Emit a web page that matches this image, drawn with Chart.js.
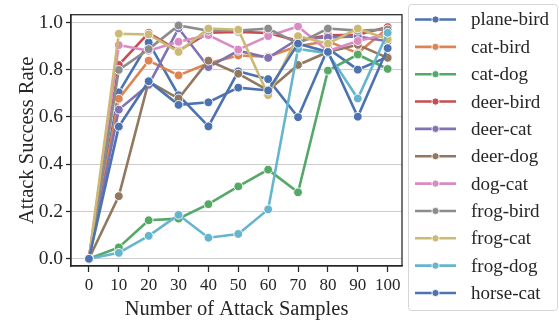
<!DOCTYPE html>
<html>
<head>
<meta charset="utf-8">
<script src="https://cdn.jsdelivr.net/npm/chart.js@4"></script>
<style>
  html, body { margin: 0; padding: 0; background: #ffffff; }
  #wrap { position: relative; width: 559px; height: 322px; }
</style>
</head>
<body>
<div id="wrap"><canvas id="c" width="559" height="322"></canvas></div>
<script>
const samples = [0, 10, 20, 30, 40, 50, 60, 70, 80, 90, 100];
const seriesNames = ["plane-bird", "cat-bird", "cat-dog", "deer-bird", "deer-cat", "deer-dog", "dog-cat", "frog-bird", "frog-cat", "frog-dog", "horse-cat"];
const planeBird = [0, 0.704, 0.915, 0.692, 0.560, 0.793, 0.760, 0.599, 0.890, 0.800, 0.854];
const catBird   = [0, 0.677, 0.838, 0.776, 0.827, 0.860, 0.855, 0.900, 0.920, 0.870, 0.975];
const catDog    = [0, 0.048, 0.163, 0.170, 0.231, 0.306, 0.377, 0.281, 0.796, 0.864, 0.803];
const deerBird  = [0, 0.820, 0.956, 0.880, 0.956, 0.960, 0.955, 0.922, 0.945, 0.948, 0.980];
const deerCat   = [0, 0.631, 0.736, 0.975, 0.811, 0.880, 0.850, 0.930, 0.936, 0.940, 0.920];
const deerDog   = [0, 0.265, 0.750, 0.678, 0.838, 0.783, 0.712, 0.820, 0.875, 0.905, 0.850];
const dogCat    = [0, 0.904, 0.880, 0.918, 0.946, 0.885, 0.942, 0.983, 0.879, 0.921, 0.950];
const frogBird  = [0, 0.799, 0.887, 0.987, 0.965, 0.965, 0.974, 0.910, 0.974, 0.965, 0.970];
const frogCat   = [0, 0.952, 0.949, 0.875, 0.974, 0.969, 0.692, 0.942, 0.910, 0.974, 0.929];
const frogDog   = [0, 0.025, 0.097, 0.186, 0.089, 0.105, 0.209, 0.888, 0.870, 0.678, 0.956];
const horseCat  = [0, 0.559, 0.751, 0.651, 0.662, 0.724, 0.712, 0.910, 0.875, 0.601, 0.891];
const yTicks = [0.0, 0.2, 0.4, 0.6, 0.8, 1.0];
const xTicks = [0, 10, 20, 30, 40, 50, 60, 70, 80, 90, 100];

const allSeries = [planeBird, catBird, catDog, deerBird, deerCat, deerDog, dogCat, frogBird, frogCat, frogDog, horseCat];
const palette = ["#4C72B0", "#DD8452", "#55A868", "#C44E52", "#8172B3", "#937860", "#DA8BC3", "#8C8C8C", "#CCB974", "#64B5CD", "#4C72B0"];

const SERIF = "'Liberation Serif', 'Times New Roman', serif";
const INK = "#262626";

const datasets = allSeries.map((vals, i) => ({
  label: seriesNames[i],
  data: samples.map((x, j) => ({ x: x, y: vals[j] })),
  borderColor: palette[i],
  backgroundColor: palette[i],
  borderWidth: 2.6,
  pointRadius: 4.4,
  pointHoverRadius: 4.4,
  pointBorderColor: "#ffffff",
  pointBorderWidth: 0.9,
  pointBackgroundColor: palette[i],
  tension: 0,
  order: allSeries.length - i
}));

const frameAndLegend = {
  id: "frameAndLegend",
  afterDraw(chart) {
    const ctx = chart.ctx;
    const a = chart.chartArea;
    ctx.save();
    ctx.strokeStyle = INK;
    ctx.lineWidth = 1.25;
    ctx.strokeRect(a.left, a.top, a.right - a.left, a.bottom - a.top);

    // legend
    const bx = 408.5, by = 4.5, bw = 149, bh = 306, r = 3;
    ctx.beginPath();
    ctx.moveTo(bx + r, by);
    ctx.lineTo(bx + bw - r, by);
    ctx.arcTo(bx + bw, by, bx + bw, by + r, r);
    ctx.lineTo(bx + bw, by + bh - r);
    ctx.arcTo(bx + bw, by + bh, bx + bw - r, by + bh, r);
    ctx.lineTo(bx + r, by + bh);
    ctx.arcTo(bx, by + bh, bx, by + bh - r, r);
    ctx.lineTo(bx, by + r);
    ctx.arcTo(bx, by, bx + r, by, r);
    ctx.closePath();
    ctx.fillStyle = "rgba(255,255,255,0.85)";
    ctx.fill();
    ctx.strokeStyle = "#d6d6d6";
    ctx.lineWidth = 1;
    ctx.stroke();

    ctx.font = "19px " + SERIF;
    ctx.textBaseline = "middle";
    ctx.textAlign = "left";
    seriesNames.forEach((name, i) => {
      const y = 19.5 + i * 27.35;
      ctx.strokeStyle = palette[i];
      ctx.lineWidth = 2.6;
      ctx.beginPath();
      ctx.moveTo(415, y);
      ctx.lineTo(456, y);
      ctx.stroke();
      ctx.beginPath();
      ctx.arc(435.5, y, 3.6, 0, Math.PI * 2);
      ctx.fillStyle = palette[i];
      ctx.fill();
      ctx.strokeStyle = "#ffffff";
      ctx.lineWidth = 0.9;
      ctx.stroke();
      ctx.fillStyle = INK;
      ctx.fillText(name, 471, y + 1);
    });
    ctx.restore();
  }
};

new Chart(document.getElementById("c"), {
  type: "line",
  data: { datasets: datasets },
  options: {
    responsive: false,
    animation: false,
    events: [],
    layout: { padding: { top: 4.5, right: 157, left: 0, bottom: 0 } },
    plugins: { legend: { display: false }, tooltip: { enabled: false } },
    scales: {
      x: {
        type: "linear",
        min: -6,
        max: 104.8,
        afterBuildTicks(scale) { scale.ticks = xTicks.map(v => ({ value: v })); },
        afterFit(scale) { scale.height = 56; },
        ticks: {
          color: INK,
          font: { family: SERIF, size: 17 },
          padding: 3,
          maxRotation: 0,
          autoSkip: false,
          callback: v => String(v)
        },
        grid: { display: true, drawOnChartArea: false, drawTicks: true, tickLength: 6, tickColor: INK, tickWidth: 1.25 },
        border: { display: true, color: INK, width: 1.25 },
        title: { display: true, text: "Number of Attack Samples", color: INK, font: { family: SERIF, size: 20.5 }, padding: { top: 0, bottom: 0 } }
      },
      y: {
        type: "linear",
        min: -0.0305,
        max: 1.0325,
        afterBuildTicks(scale) { scale.ticks = yTicks.map(v => ({ value: v })); },
        afterFit(scale) { scale.width = 71; },
        ticks: {
          color: INK,
          font: { family: SERIF, size: 19.5 },
          padding: 3,
          autoSkip: false,
          callback: v => Number(v).toFixed(1)
        },
        grid: { display: true, drawOnChartArea: true, color: "#cccccc", lineWidth: 1, drawTicks: true, tickLength: 5, tickColor: INK, tickWidth: 1.25 },
        border: { display: true, color: INK, width: 1.25 },
        title: { display: true, text: "Attack Success Rate", color: INK, font: { family: SERIF, size: 20.5 }, padding: { top: 15.5, bottom: 0 } }
      }
    }
  },
  plugins: [frameAndLegend]
});
</script>
</body>
</html>
